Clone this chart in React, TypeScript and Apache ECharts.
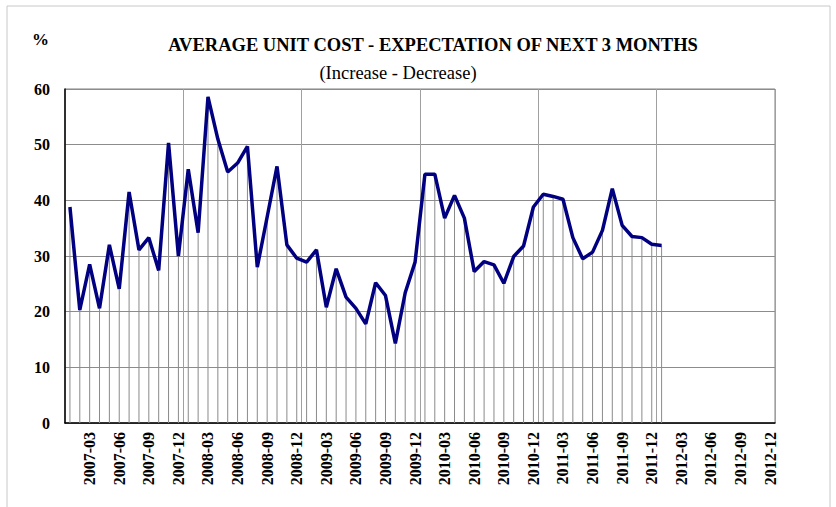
import React, { useEffect, useRef } from "react";
import * as echarts from "echarts";

const years = ["2007", "2008", "2009", "2010", "2011", "2012"];
const months = ["01", "02", "03", "04", "05", "06", "07", "08", "09", "10", "11", "12"];
const categories: string[] = [];
years.forEach((y) => months.forEach((m) => categories.push(`${y}-${m}`)));

const costValues = [
  38.8, 20.3, 28.5, 20.6, 32.0, 24.1, 41.5, 31.1, 33.3, 27.4, 50.3, 30.0,
  45.6, 34.2, 58.6, 51.0, 45.1, 46.7, 49.7, 28.0, 37.0, 46.1, 32.0, 29.6,
  28.9, 31.1, 20.8, 27.7, 22.6, 20.6, 17.8, 25.2, 22.9, 14.3, 23.4, 28.9,
  44.7, 44.7, 36.8, 40.9, 36.8, 27.2, 29.0, 28.4, 25.1, 29.9, 31.8, 38.8,
  41.1, 40.7, 40.2, 33.3, 29.5, 30.7, 34.6, 42.1, 35.5, 33.5, 33.3, 32.1,
  31.9,
];

const titleText = "AVERAGE UNIT COST - EXPECTATION OF NEXT 3 MONTHS";
const subtitleText = "(Increase - Decrease)";
const unitText = "%";

const serif = "Liberation Serif";

export default function App() {
  const ref = useRef<HTMLDivElement>(null);
  useEffect(() => {
    if (!ref.current) return;
    const chart = echarts.init(ref.current, null, { renderer: "svg" });
    chart.setOption({
      animation: false,
      backgroundColor: "#ffffff",
      graphic: [
        {
          type: "rect",
          shape: { x: 7, y: 6, width: 823, height: 510 },
          style: { fill: "none", stroke: "#c8c8c8", lineWidth: 1 },
          silent: true,
        },
        {
          type: "text",
          left: 32,
          top: 31,
          style: { text: unitText, fontFamily: serif, fontWeight: "bold", fontSize: 17, fill: "#000" },
        },
      ],
      title: [
        {
          text: titleText,
          left: 428,
          top: 30,
          textAlign: "center",
          textStyle: { fontFamily: serif, fontWeight: "bold", fontSize: 18.5, color: "#000" },
        },
        {
          text: subtitleText,
          left: 393,
          top: 58,
          textAlign: "center",
          textStyle: { fontFamily: serif, fontWeight: "normal", fontSize: 18.5, color: "#000" },
        },
      ],
      grid: { left: 65, right: 61, top: 89, bottom: 84, show: true, borderColor: "#808080", borderWidth: 1 },
      xAxis: {
        type: "category",
        data: categories,
        boundaryGap: true,
        axisLine: { show: true, lineStyle: { color: "#000", width: 1.5 } },
        axisTick: { show: false },
        axisLabel: {
          interval: (i: number) => i % 3 === 2,
          rotate: 90,
          fontFamily: serif,
          fontWeight: "bold",
          fontSize: 16,
          color: "#000",
          margin: 9,
        },
        splitLine: {
          show: true,
          interval: (i: number) => i % 12 === 0 && i > 0,
          lineStyle: { color: "#a0a0a0", width: 1 },
        },
      },
      yAxis: {
        type: "value",
        min: 0,
        max: 60,
        interval: 10,
        axisLine: { show: true, lineStyle: { color: "#000", width: 1.5 } },
        axisTick: { show: false },
        axisLabel: {
          fontFamily: serif,
          fontWeight: "bold",
          fontSize: 16,
          color: "#000",
          margin: 15,
        },
        splitLine: { show: true, lineStyle: { color: "#8c8c8c", width: 1 } },
      },
      series: [
        {
          type: "bar",
          data: costValues,
          barWidth: 1,
          itemStyle: { color: "#8a8a8a" },
          silent: true,
          z: 1,
        },
        {
          type: "line",
          data: costValues,
          symbol: "none",
          lineStyle: { color: "#000080", width: 3.5 },
          z: 3,
        },
      ],
    });
    return () => chart.dispose();
  }, []);
  return <div ref={ref} style={{ position: "fixed", left: 0, top: 0, width: 836, height: 507 }} />;
}
